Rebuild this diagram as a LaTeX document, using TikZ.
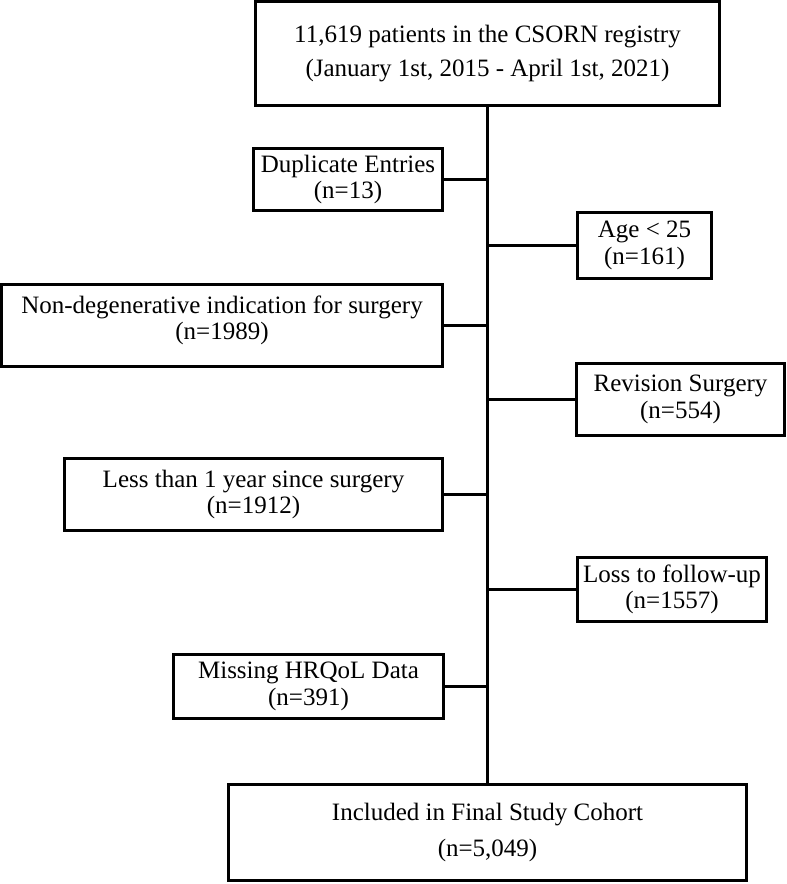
\documentclass[tikz,border=0pt]{standalone}
\usepackage{fontspec}
\setmainfont{Liberation Serif}
\begin{document}
\begin{tikzpicture}[x=1bp,y=-1bp,
  box/.style={draw=black, line width=3bp, fill=white, inner sep=0pt, align=center,
    font=\fontsize{25bp}{26.5bp}\selectfont},
  txt/.style={inner sep=0pt, align=center, font=\fontsize{25bp}{26.5bp}\selectfont},
  link/.style={draw=black, line width=3bp}]
\useasboundingbox (0,0) rectangle (787,884);
\node[box, minimum width=464bp, minimum height=104bp] (top) at (487.5,53.5)
  {11,619 patients in the CSORN registry\\[8bp](January 1st, 2015 - April 1st, 2021)};
\node[box, minimum width=189bp, minimum height=62bp] (dup) at (348,179.5)
  {Duplicate Entries\\(n=13)};
\node[box, minimum width=134bp, minimum height=66bp] (age) at (644.5,245.5)
  {Age < 25\\(n=161)};
\node[box, minimum width=441bp, minimum height=82bp] (nondeg) at (222,325.5) {};
\node[txt, yshift=5bp] (nondegtext) at (nondeg.center)
  {Non-degenerative indication for surgery\\(n=1989)};
\node[box, minimum width=208bp, minimum height=72bp] (rev) at (680.5,399.5)
  {Revision Surgery\\(n=554)};
\node[box, minimum width=378bp, minimum height=72bp] (less) at (253.5,494.5)
  {Less than 1 year since surgery\\(n=1912)};
\node[box, minimum width=189bp, minimum height=64bp] (loss) at (672,589.5)
  {Loss to follow-up\\(n=1557)};
\node[box, minimum width=270bp, minimum height=64bp] (miss) at (308.5,686.5)
  {Missing HRQoL Data\\(n=391)};
\node[box, minimum width=518bp, minimum height=96bp] (final) at (487.5,832.5)
  {Included in Final Study Cohort\\[9bp](n=5,049)};
\draw[link] (top.south) -- (final.north);
\draw[link] (dup.east) -- (dup.east -| top.south);
\draw[link] (age.west) -- (age.west -| top.south);
\draw[link] (nondeg.east) -- (nondeg.east -| top.south);
\draw[link] (rev.west) -- (rev.west -| top.south);
\draw[link] (less.east) -- (less.east -| top.south);
\draw[link] (loss.west) -- (loss.west -| top.south);
\draw[link] (miss.east) -- (miss.east -| top.south);
\end{tikzpicture}
\end{document}
